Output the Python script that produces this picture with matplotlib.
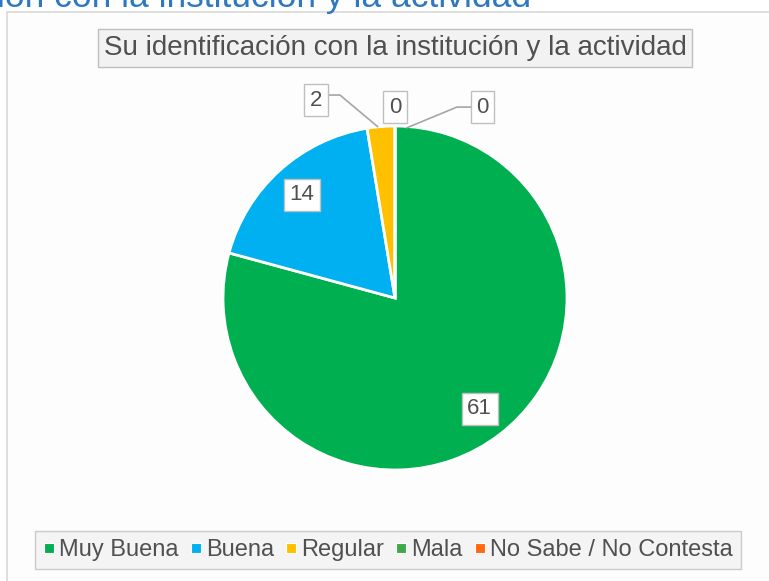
import numpy as np
import matplotlib.pyplot as plt
from matplotlib.patches import Rectangle

plt.rcParams['font.family'] = ['Liberation Sans', 'DejaVu Sans']

# Data
categories = ['Muy Buena', 'Buena', 'Regular', 'Mala', 'No Sabe / No Contesta']
values = [61, 14, 2, 0, 0]
colors = ['#00B050', '#00B0F0', '#FFC000', '#3DAA4A', '#FF6A0D']
title = 'Su identificación con la institución y la actividad'
header = 'ión con la institución y la actividad'

W, H = 769, 581
fig = plt.figure(figsize=(W / 100, H / 100), dpi=100)
fig.patch.set_facecolor('white')

# chart area frame
frame = Rectangle((7 / W, -0.1), 1.1, 1 - 12 / H + 0.1, transform=fig.transFigure,
                  facecolor='#FDFDFD', edgecolor='#D9D9D9', lw=1.2, zorder=-5)
fig.patches.append(frame)

# cut header text above chart
fig.text(-3 / W, 1 - 7 / H, header, color='#2E78C2', fontsize=25.5, va='baseline', ha='left')

# pie
cx, cy, r = 395, 298, 172
ax = fig.add_axes([(cx - r) / W, (H - cy - r) / H, 2 * r / W, 2 * r / H])
ax.patch.set_alpha(0)
wedges, _ = ax.pie(values, colors=colors, startangle=90, counterclock=False, radius=1,
                   wedgeprops=dict(edgecolor='white', linewidth=2))
ax.set_xlim(-1, 1)
ax.set_ylim(-1, 1)
ax.set_aspect('equal')

box = dict(boxstyle='square,pad=0.25', facecolor='white', edgecolor='#BFBFBF', lw=1)
total = sum(values)
angles = []
start = 90
for v in values:
    sweep = 360 * v / total
    angles.append(np.deg2rad(start - sweep / 2))
    start -= sweep

# inside labels
for i in (0, 1):
    a = angles[i]
    ax.text(0.81 * np.cos(a), 0.81 * np.sin(a), str(values[i]), ha='center', va='center',
            fontsize=16, color='#505050', bbox=box, clip_on=False)

# outside labels with leader lines
outside = {2: (-0.46, 1.15), 3: (0.0, 1.11), 4: (0.51, 1.11)}
for i, (lx, ly) in outside.items():
    a = angles[i]
    ax.text(lx, ly, str(values[i]), ha='center', va='center', fontsize=16, color='#505050',
            bbox=box, clip_on=False, zorder=5)
    px, py = np.cos(a), np.sin(a)
    if i == 2:
        ax.plot([lx + 0.06, lx + 0.14, px - 0.02], [ly + 0.03, ly + 0.03, py], color='#A6A6A6',
                lw=1.2, clip_on=False, zorder=4)
    elif i == 4:
        ax.plot([lx - 0.07, lx - 0.15, 0.07], [ly, ly, 0.99], color='#A6A6A6',
                lw=1.2, clip_on=False, zorder=4)

# title box
fig.text(395 / W, 1 - 48 / H, title, ha='center', va='center', fontsize=20, color='#505050',
         bbox=dict(boxstyle='square,pad=0.2', facecolor='#F2F2F2', edgecolor='#BFBFBF', lw=1))

# legend
handles = [plt.Line2D([], [], marker='s', ls='', color=c, markersize=7,
                      markeredgecolor='white', markeredgewidth=0.8) for c in colors]
leg = fig.legend(handles, categories, loc='center', bbox_to_anchor=(388 / W, 1 - 550 / H),
                 ncol=5, frameon=True, fontsize=17, handlelength=0.45, handletextpad=0.2,
                 columnspacing=0.5, borderpad=0.35, fancybox=False,
                 labelcolor='#505050', borderaxespad=0)
leg.get_frame().set_facecolor('#F2F2F2')
leg.get_frame().set_edgecolor('#BFBFBF')
leg.get_frame().set_linewidth(1)

fig.savefig('out.png', dpi=100)
